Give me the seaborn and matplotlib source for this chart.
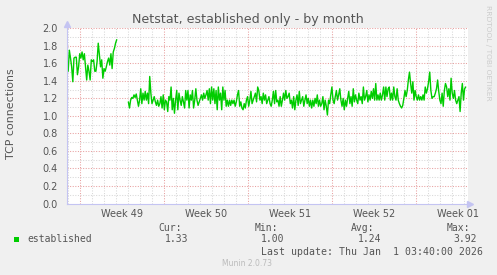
import numpy as np
import pandas as pd
import matplotlib
matplotlib.use("Agg")
import matplotlib.pyplot as plt
from matplotlib.patches import Rectangle
import seaborn as sns

# ---------------- data ----------------
# time axis in days, day 0 = Sun 30 Nov 2025 00:00 (week starts on Sunday)
seg1_start, seg1_end = -1.08, 3.06
seg2_start, seg2_end = 4.03, 32.14

seg1_values = [1.56, 1.51, 1.75, 1.66, 1.56, 1.39, 1.66, 1.67, 1.67, 1.47, 1.56,
               1.71, 1.66, 1.73, 1.64, 1.71, 1.56, 1.41, 1.58, 1.51, 1.41, 1.64,
               1.62, 1.64, 1.51, 1.51, 1.62, 1.83, 1.70, 1.56, 1.64, 1.43, 1.54,
               1.51, 1.56, 1.62, 1.66, 1.58, 1.71, 1.54, 1.73, 1.77, 1.83, 1.87]

seg2_values = [
    1.16, 1.09, 1.18, 1.21, 1.20, 1.24, 1.21, 1.25, 1.18, 1.11, 1.18, 1.31, 1.14,
    1.26, 1.18, 1.28, 1.18, 1.26, 1.14, 1.45, 1.26, 1.14, 1.18, 1.22, 1.16, 1.12,
    1.18, 1.11, 1.14, 1.22, 1.09, 1.24, 1.07, 1.18, 1.16, 1.05, 1.22, 1.18, 1.33,
    1.07, 1.20, 1.03, 1.18, 1.29, 1.07, 1.26, 1.18, 1.12, 1.22, 1.16, 1.09, 1.29,
    1.18, 1.29, 1.09, 1.24, 1.18, 1.29, 1.09, 1.18, 1.31, 1.18, 1.12, 1.16, 1.20,
    1.24, 1.18, 1.26, 1.20, 1.24, 1.29, 1.18, 1.31, 1.14, 1.33, 1.18, 1.31, 1.14,
    1.29, 1.07, 1.33, 1.18, 1.26, 1.07, 1.33, 1.18, 1.29, 1.11, 1.18, 1.11, 1.18,
    1.12, 1.18, 1.14, 1.18, 1.11, 1.16, 1.24, 1.29, 1.11, 1.16, 1.09, 1.07, 1.14,
    1.09, 1.18, 1.22,
    1.11, 1.18, 1.28, 1.14, 1.18, 1.22, 1.26, 1.16, 1.33, 1.29, 1.18, 1.22, 1.14,
    1.26, 1.18, 1.24, 1.14, 1.18, 1.22, 1.14, 1.11, 1.18, 1.28, 1.14, 1.29, 1.16,
    1.18, 1.11, 1.22, 1.11, 1.18, 1.26, 1.18, 1.29, 1.20, 1.22, 1.26, 1.14, 1.18,
    1.09, 1.22, 1.07, 1.18, 1.24, 1.12, 1.28, 1.14, 1.18, 1.22, 1.11, 1.18, 1.24,
    1.14, 1.20, 1.11, 1.18, 1.09, 1.18, 1.11, 1.20, 1.14, 1.24, 1.11, 1.18, 1.11,
    1.14, 1.22, 1.07, 1.18, 1.11, 1.01, 1.18, 1.14, 1.24, 1.33, 1.18, 1.14, 1.22,
    1.29, 1.18, 1.24, 1.31, 1.18, 1.11, 1.20, 1.07, 1.18, 1.11, 1.20, 1.28, 1.14,
    1.22, 1.11, 1.31, 1.16, 1.24, 1.18, 1.14, 1.26, 1.18, 1.22, 1.14, 1.33, 1.18,
    1.22, 1.29, 1.16, 1.24, 1.18, 1.28, 1.20, 1.31, 1.18, 1.37, 1.18, 1.24, 1.18,
    1.26, 1.18, 1.24, 1.33, 1.18, 1.33, 1.22, 1.31, 1.33, 1.18, 1.26, 1.18, 1.33,
    1.22, 1.18, 1.31, 1.18, 1.14, 1.11, 1.09, 1.12, 1.20, 1.29, 1.22, 1.29, 1.41,
    1.50, 1.37, 1.26, 1.39, 1.18, 1.29, 1.22, 1.18, 1.24, 1.18, 1.22, 1.18, 1.24,
    1.18, 1.33, 1.26, 1.31, 1.39, 1.50, 1.29, 1.20, 1.22, 1.22, 1.26, 1.31, 1.41,
    1.28, 1.18, 1.14, 1.26, 1.11, 1.29, 1.37, 1.33, 1.22, 1.31, 1.18, 1.43, 1.26,
    1.20, 1.29, 1.18, 1.14, 1.18, 1.22, 1.05, 1.26, 1.37, 1.18, 1.31, 1.33]

y_ticks = [0.0, 0.2, 0.4, 0.6, 0.8, 1.0, 1.2, 1.4, 1.6, 1.8, 2.0]
week_starts = [0, 7, 14, 21, 28]
week_labels = ["Week 49", "Week 50", "Week 51", "Week 52", "Week 01"]
legend_name = "established"
stat_names = ["Cur:", "Min:", "Avg:", "Max:"]
stat_values = ["1.33", "1.00", "1.24", "3.92"]
title = "Netstat, established only - by month"
ylabel = "TCP connections"
last_update = "Last update: Thu Jan  1 03:40:00 2026"
version = "Munin 2.0.73"

df1 = pd.DataFrame({"day": np.linspace(seg1_start, seg1_end, len(seg1_values)),
                    "value": seg1_values})
df2 = pd.DataFrame({"day": np.linspace(seg2_start, seg2_end, len(seg2_values)),
                    "value": seg2_values})

# ---------------- style ----------------
sns.set_style("white")
plt.rcParams["font.family"] = ["DejaVu Sans"]

W, H = 497, 275
BG = "#f0f0f0"
TXT = "#555555"
GREEN = "#00cc00"
AXC = "#c4c4f2"
MAJ = "#e8a0a0"
MIN = "#d8d8d8"

fig = plt.figure(figsize=(W / 100, H / 100), dpi=100, facecolor=BG)
L, R, T, B = 67, 468, 28.3, 203.5
ax = fig.add_axes([L / W, 1 - B / H, (R - L) / W, (B - T) / H])
ax.set_facecolor("white")

xmin, xmax = -1.083, 32.33
ax.set_xlim(xmin, xmax)
ax.set_ylim(0, 2.0)

# grid
dots = (0, (1, 1.5))
for d in range(-1, 33):
    if d in week_starts:
        continue
    ax.axvline(d, color=MIN, lw=0.75, ls=dots, zorder=1)
for k in range(0, 21):
    yv = k / 10
    if k % 2 == 1:
        ax.axhline(yv, color=MIN, lw=0.75, ls=dots, zorder=1)
for yv in y_ticks[1:]:
    ax.axhline(yv, color=MAJ, lw=0.75, ls=dots, zorder=2)
for w in week_starts:
    ax.axvline(w, color=MAJ, lw=0.75, ls=dots, zorder=2)

sns.lineplot(data=df1, x="day", y="value", ax=ax, color=GREEN, lw=1.0, zorder=5)
sns.lineplot(data=df2, x="day", y="value", ax=ax, color=GREEN, lw=1.0, zorder=5)

# spines
for s in ["top", "right"]:
    ax.spines[s].set_visible(False)
for s in ["left", "bottom"]:
    ax.spines[s].set_color(AXC)
    ax.spines[s].set_linewidth(0.8)
    ax.spines[s].set_zorder(6)

# arrows
ax.plot([1.006], [0], marker=">", ms=4, color=AXC, transform=ax.transAxes,
        clip_on=False, zorder=7)
ax.plot([0], [1.024], marker="^", ms=4, color=AXC, transform=ax.transAxes,
        clip_on=False, zorder=7)

# ticks
ax.set_yticks(y_ticks)
ax.set_yticklabels([f"{v:.1f}" for v in y_ticks])
ax.set_yticks(np.arange(0.1, 2.0, 0.2), minor=True)
ax.tick_params(axis="y", which="major", length=2, color=MAJ, pad=4.5,
               labelsize=7, labelcolor=TXT)
ax.tick_params(axis="y", which="minor", length=2, color=MIN)

ax.set_xticks([w + 3.5 for w in week_starts])
ax.set_xticklabels(week_labels)
ax.set_xticks(list(range(-1, 33)), minor=True)
ax.tick_params(axis="x", which="major", length=0, pad=4, labelsize=7,
               labelcolor=TXT)
ax.tick_params(axis="x", which="minor", length=2, color=MIN)
for t, d in zip(ax.xaxis.get_minor_ticks(), range(-1, 33)):
    if d in week_starts:
        t.tick1line.set_color(MAJ)

ax.set_xlabel("")
ax.set_ylabel("")

# texts
fig.text(248 / W, 1 - 19.5 / H, title, ha="center", va="center",
         fontsize=9.1, color=TXT)
fig.text(11 / W, 1 - 113.5 / H, ylabel, ha="center", va="center",
         rotation=90, fontsize=7.9, color=TXT)
fig.text(488 / W, 1 - 5 / H, "RRDTOOL / TOBI OETIKER", ha="center", va="top",
         rotation=270, fontsize=5.4, color="#cccccc")

mono = "DejaVu Sans Mono"
fig.add_artist(Rectangle((14 / W, 1 - 242 / H), 5 / W, 5 / H,
                         transform=fig.transFigure, facecolor=GREEN,
                         edgecolor="none"))
fig.text(27 / W, 1 - 239.5 / H, legend_name, family=mono, fontsize=7,
         color=TXT, va="center", ha="left")
name_x = [158.3, 255, 351, 446.7]
val_x = [165, 261, 357.7, 453]
for nx, vx, n, v in zip(name_x, val_x, stat_names, stat_values):
    fig.text(nx / W, 1 - 227.7 / H, n, family=mono, fontsize=7, color=TXT,
             va="center", ha="left")
    fig.text(vx / W, 1 - 239.5 / H, v, family=mono, fontsize=7, color=TXT,
             va="center", ha="left")
fig.text(261 / W, 1 - 251.7 / H, last_update, family=mono, fontsize=7.1,
         color=TXT, va="center", ha="left")
fig.text(247.5 / W, 1 - 263.7 / H, version, fontsize=5.5, color="#bbbbbb",
         va="center", ha="center")

fig.savefig("out.png", dpi=100, facecolor=BG)
